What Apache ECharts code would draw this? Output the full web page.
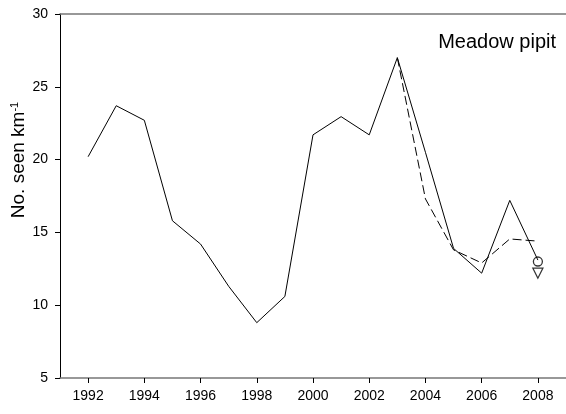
<!DOCTYPE html>
<html>
<head>
<meta charset="utf-8">
<script src="https://cdn.jsdelivr.net/npm/echarts@6/dist/echarts.min.js"></script>
<style>
  html, body { margin: 0; padding: 0; background: #fff; }
  #chart { width: 566px; height: 414px; }
</style>
</head>
<body>
<div id="chart"></div>
<script>
// Meadow pipit counts per km, observed series and modelled series
const years = [1992, 1993, 1994, 1995, 1996, 1997, 1998, 1999, 2000, 2001, 2002, 2003, 2004, 2005, 2006, 2007, 2008];
const observed = [20.2, 23.7, 22.7, 15.8, 14.2, 11.3, 8.8, 10.6, 21.7, 22.95, 21.7, 27.0, 20.5, 13.9, 12.2, 17.2, 13.1];

const modelYears = [2003, 2004, 2005, 2006, 2007, 2008];
const modelled = [27.0, 17.3, 13.8, 12.9, 14.55, 14.4];

const circlePoint = [2008, 13.0];
const trianglePoint = [2008, 12.2];

const xTickYears = [1992, 1994, 1996, 1998, 2000, 2002, 2004, 2006, 2008];

const FONT = 'Liberation Sans, Arial, sans-serif';

const chart = echarts.init(document.getElementById('chart'), null, { renderer: 'canvas' });

chart.setOption({
  animation: false,
  backgroundColor: '#fff',
  grid: { left: 60, top: 14, right: 0, bottom: 36, containLabel: false },
  title: {
    text: 'Meadow pipit',
    right: 5,
    top: 27,
    textStyle: { fontFamily: FONT, fontSize: 20, fontWeight: 'normal', color: '#000' }
  },
  graphic: [
    {
      type: 'text',
      x: 19,
      y: 160,
      rotation: Math.PI / 2,
      style: {
        text: 'No. seen km{sup|-1}',
        fontFamily: FONT,
        fontSize: 19,
        fill: '#000',
        align: 'center',
        verticalAlign: 'middle',
        rich: {
          sup: { fontFamily: FONT, fontSize: 11, fill: '#000', verticalAlign: 'top', padding: [0, 0, 9, 0] }
        }
      }
    }
  ],
  xAxis: [
    {
      type: 'value',
      min: 1991,
      max: 2009,
      position: 'bottom',
      splitLine: { show: false },
      axisLine: { show: true, onZero: false, lineStyle: { color: '#777', width: 1.5 } },
      axisTick: { show: true, customValues: xTickYears, length: 5, inside: false, lineStyle: { color: '#000', width: 1 } },
      axisLabel: {
        customValues: xTickYears,
        formatter: v => String(v),
        fontFamily: FONT, fontSize: 14, color: '#000', margin: 11
      }
    },
    {
      type: 'value',
      min: 1991,
      max: 2009,
      position: 'top',
      splitLine: { show: false },
      axisLine: { show: true, onZero: false, lineStyle: { color: '#777', width: 1.5 } },
      axisTick: { show: false },
      axisLabel: { show: false }
    }
  ],
  yAxis: {
    type: 'value',
    min: 5,
    max: 30,
    interval: 5,
    splitLine: { show: false },
    axisLine: { show: true, onZero: false, lineStyle: { color: '#000', width: 1 } },
    axisTick: { show: true, length: 5, lineStyle: { color: '#000' } },
    axisLabel: { fontFamily: FONT, fontSize: 14, color: '#000', margin: 12 }
  },
  series: [
    {
      name: 'observed',
      type: 'line',
      data: years.map((y, i) => [y, observed[i]]),
      showSymbol: false,
      symbol: 'none',
      lineStyle: { color: '#000', width: 1 }
    },
    {
      name: 'modelled',
      type: 'line',
      data: modelYears.map((y, i) => [y, modelled[i]]),
      showSymbol: false,
      symbol: 'none',
      lineStyle: { color: '#000', width: 1, type: [9, 4] }
    },
    {
      name: 'circle',
      type: 'scatter',
      data: [circlePoint],
      symbol: 'circle',
      symbolSize: 9,
      itemStyle: { color: '#fff', borderColor: '#000', borderWidth: 1.3 }
    },
    {
      name: 'triangle',
      type: 'scatter',
      data: [trianglePoint],
      symbol: 'triangle',
      symbolRotate: 180,
      symbolSize: 10,
      itemStyle: { color: '#fff', borderColor: '#000', borderWidth: 1.3 }
    }
  ]
});
</script>
</body>
</html>
